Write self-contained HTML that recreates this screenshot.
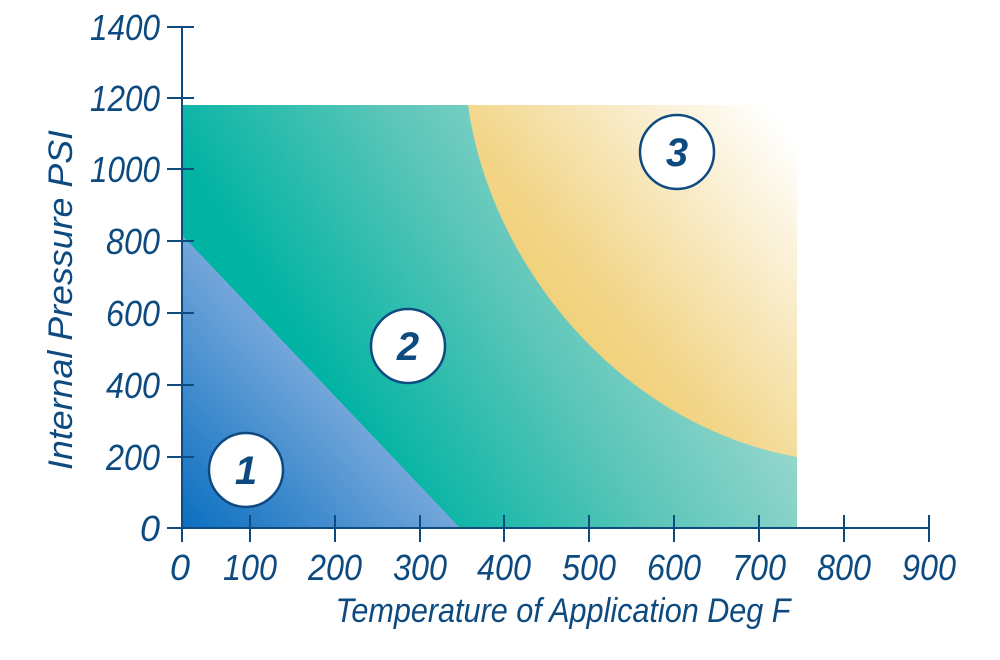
<!DOCTYPE html>
<html><head><meta charset="utf-8"><style>
body{margin:0;background:#fff;}
svg{display:block}
text{font-family:"Liberation Sans",sans-serif;font-style:italic;fill:#0d4a80;}
</style></head><body>
<svg width="1000" height="660" viewBox="0 0 1000 660">
<defs>
<linearGradient id="gt" gradientUnits="userSpaceOnUse" x1="380" y1="470" x2="720" y2="250">
<stop offset="0" stop-color="#00b3a3"/><stop offset="0.5" stop-color="#5cc6b9"/><stop offset="1" stop-color="#a6dbd3"/>
</linearGradient>
<linearGradient id="gb" x1="0" y1="1" x2="0.8" y2="0.2">
<stop offset="0" stop-color="#0a6fc0"/><stop offset="1" stop-color="#b3c8ea"/>
</linearGradient>
<linearGradient id="gy" x1="0.1" y1="0.9" x2="1" y2="0.1">
<stop offset="0" stop-color="#efc85a"/><stop offset="0.4" stop-color="#f2d588"/><stop offset="1" stop-color="#ffffff"/>
</linearGradient>
</defs>
<rect x="182" y="105" width="615" height="423" fill="url(#gt)"/>
<path d="M182,235 L460,528 L182,528 Z" fill="url(#gb)"/>
<path d="M468,105 C490,265 620,425 797,457 L797,105 Z" fill="url(#gy)"/>
<g stroke="#0d4a80" stroke-width="2" fill="none">
<line x1="182" y1="27" x2="182" y2="542"/>
<line x1="167" y1="528" x2="930" y2="528"/>
<line x1="167" y1="27" x2="194" y2="27"/>
<line x1="167" y1="98" x2="194" y2="98"/>
<line x1="167" y1="169" x2="194" y2="169"/>
<line x1="167" y1="241" x2="194" y2="241"/>
<line x1="167" y1="313" x2="194" y2="313"/>
<line x1="167" y1="385" x2="194" y2="385"/>
<line x1="167" y1="457" x2="194" y2="457"/>
<line x1="250" y1="515" x2="250" y2="542"/>
<line x1="335" y1="515" x2="335" y2="542"/>
<line x1="420" y1="515" x2="420" y2="542"/>
<line x1="504" y1="515" x2="504" y2="542"/>
<line x1="589" y1="515" x2="589" y2="542"/>
<line x1="674" y1="515" x2="674" y2="542"/>
<line x1="759" y1="515" x2="759" y2="542"/>
<line x1="844" y1="515" x2="844" y2="542"/>
<line x1="929" y1="515" x2="929" y2="542"/>
</g>
<g font-size="36" text-anchor="end">
<text x="160" y="40" textLength="70" lengthAdjust="spacingAndGlyphs">1400</text>
<text x="160" y="111" textLength="70" lengthAdjust="spacingAndGlyphs">1200</text>
<text x="160" y="182" textLength="70" lengthAdjust="spacingAndGlyphs">1000</text>
<text x="160" y="254" textLength="54" lengthAdjust="spacingAndGlyphs">800</text>
<text x="160" y="326" textLength="54" lengthAdjust="spacingAndGlyphs">600</text>
<text x="160" y="398" textLength="54" lengthAdjust="spacingAndGlyphs">400</text>
<text x="160" y="470" textLength="54" lengthAdjust="spacingAndGlyphs">200</text>
<text x="160" y="541">0</text>
</g>
<g font-size="36" text-anchor="middle">
<text x="180" y="580">0</text>
<text x="250" y="580" textLength="54" lengthAdjust="spacingAndGlyphs">100</text>
<text x="335" y="580" textLength="54" lengthAdjust="spacingAndGlyphs">200</text>
<text x="420" y="580" textLength="54" lengthAdjust="spacingAndGlyphs">300</text>
<text x="504" y="580" textLength="54" lengthAdjust="spacingAndGlyphs">400</text>
<text x="589" y="580" textLength="54" lengthAdjust="spacingAndGlyphs">500</text>
<text x="674" y="580" textLength="54" lengthAdjust="spacingAndGlyphs">600</text>
<text x="759" y="580" textLength="54" lengthAdjust="spacingAndGlyphs">700</text>
<text x="844" y="580" textLength="54" lengthAdjust="spacingAndGlyphs">800</text>
<text x="929" y="580" textLength="54" lengthAdjust="spacingAndGlyphs">900</text>
</g>
<text x="563" y="622" font-size="34" text-anchor="middle" textLength="455" lengthAdjust="spacingAndGlyphs">Temperature of Application Deg F</text>
<text transform="translate(72,300) rotate(-90)" font-size="34" text-anchor="middle" textLength="340" lengthAdjust="spacingAndGlyphs">Internal Pressure PSI</text>
<g stroke="#0d4a80" stroke-width="2.5" fill="#fff">
<circle cx="246" cy="470" r="37"/>
<circle cx="408" cy="346" r="37"/>
<circle cx="677" cy="152" r="37"/>
</g>
<g font-size="40" font-weight="bold" text-anchor="middle">
<text x="246" y="484">1</text>
<text x="408" y="360">2</text>
<text x="677" y="166">3</text>
</g>
</svg>
</body></html>
